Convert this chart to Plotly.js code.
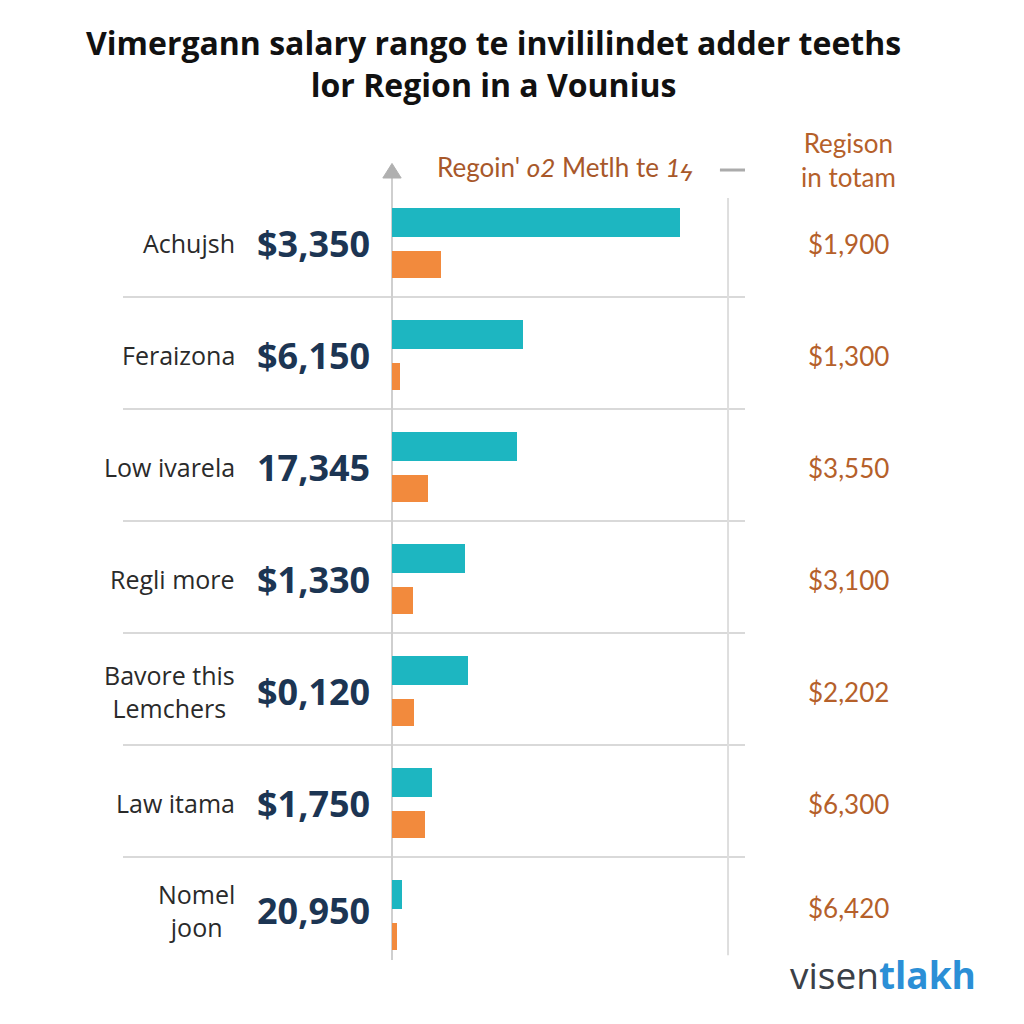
<!DOCTYPE html>
<html>
<head>
<meta charset="utf-8">
<script src="https://cdn.plot.ly/plotly-3.0.1.min.js"></script>
<style>html,body{margin:0;padding:0;background:#fff;}#chart{width:1024px;height:1024px;}</style>
</head>
<body>
<div id="chart"></div>
<script>
const categories = ["Achujsh", "Feraizona", "Low ivarela", "Regli more", "Bavore this<br>Lemchers", "Law itama", "Nomel<br>joon"];
const valueLabels = ["$3,350", "$6,150", "17,345", "$1,330", "$0,120", "$1,750", "20,950"];
const rightLabels = ["$1,900", "$1,300", "$3,550", "$3,100", "$2,202", "$6,300", "$6,420"];
const tealValues = [85.7, 39.0, 37.2, 21.7, 22.6, 11.9, 3.0];
const orangeValues = [14.6, 2.4, 10.7, 6.3, 6.5, 9.8, 1.5];
const titleText = "Vimergann salary rango te invililindet adder teeths<br>lor Region in a Vounius";
const legendText = "Regoin' <i>o2</i> Metlh te <i>1ϟ</i>";
const rightHeader = "Regison<br>in totam";

const idx = categories.map((c, i) => i);

const traces = [
  {type: 'bar', orientation: 'h', y: idx, x: tealValues, width: 0.26, offset: -0.375,
   marker: {color: '#1db6c1'}, hoverinfo: 'skip', showlegend: false},
  {type: 'bar', orientation: 'h', y: idx, x: orangeValues, width: 0.24, offset: 0.01,
   marker: {color: '#f28a3d'}, hoverinfo: 'skip', showlegend: false}
];

const annotations = [];
categories.forEach((c, i) => {
  const ys = i === 6 ? 12 : 7;
  annotations.push({xref: 'paper', yref: 'y', x: -0.439, y: i, yshift: ys, xanchor: 'right', yanchor: 'middle',
    text: c, showarrow: false, align: c.includes('<br>') ? 'center' : 'right',
    font: {family: 'Open Sans', size: 25, color: '#2a2a2a'}});
  annotations.push({xref: 'paper', yref: 'y', x: -0.057, y: i, yshift: ys, xanchor: 'right', yanchor: 'middle',
    text: '<b>' + valueLabels[i] + '</b>', showarrow: false,
    font: {family: 'Open Sans', size: 36, color: '#1c3553'}});
  annotations.push({xref: 'paper', yref: 'y', x: 1.292, y: i, yshift: (i === 6 ? 14 : 6), xanchor: 'center', yanchor: 'middle',
    text: rightLabels[i], showarrow: false,
    font: {family: 'Lato', size: 26, color: '#b5602a'}});
});
annotations.push({xref: 'paper', yref: 'paper', x: 1.292, y: 1.0434, xanchor: 'center', yanchor: 'middle',
  text: rightHeader, showarrow: false, font: {family: 'Lato', size: 26, color: '#b5602a'}});
annotations.push({xref: 'paper', yref: 'paper', x: 0.49, y: 1.0344, xanchor: 'center', yanchor: 'middle',
  text: legendText, showarrow: false, font: {family: 'Lato', size: 26, color: '#a8582a'}});
annotations.push({xref: 'paper', yref: 'paper', x: 1.66, y: 0.004, xanchor: 'right', yanchor: 'middle',
  text: "<span style='color:#3b4047'>visen</span><b><span style='color:#2b8fd6'>tlakh</span></b>", showarrow: false,
  font: {family: 'Open Sans', size: 37, color: '#3b4047'}});

const sepY = [0.8686, 0.7258, 0.5829, 0.4401, 0.2972, 0.1543];
const shapes = sepY.map(y => ({type: 'line', xref: 'paper', yref: 'paper', x0: -0.762, x1: 1.0, y0: y, y1: y,
  line: {color: '#d9d9d9', width: 2}, layer: 'below'}));
shapes.push({type: 'line', xref: 'paper', yref: 'paper', x0: 0, x1: 0, y0: 0.023, y1: 1.024,
  line: {color: '#cfcfcf', width: 2}, layer: 'below'});
shapes.push({type: 'line', xref: 'paper', yref: 'paper', x0: 0.952, x1: 0.952, y0: 0.029, y1: 0.995,
  line: {color: '#dedede', width: 2}, layer: 'below'});
shapes.push({type: 'path', xref: 'paper', yref: 'paper',
  path: 'M -0.026 1.0204 L 0 1.039 L 0.026 1.0204 Z', fillcolor: '#b0b0b0', line: {color: '#b0b0b0', width: 1}});
shapes.push({type: 'line', xref: 'paper', yref: 'paper', x0: 0.929, x1: 1.0, y0: 1.0306, y1: 1.0306,
  line: {color: '#ababab', width: 3}});

const layout = {
  width: 1024, height: 1024,
  paper_bgcolor: '#ffffff', plot_bgcolor: 'rgba(0,0,0,0)',
  margin: {l: 392, r: 279, t: 194, b: 46},
  title: {text: '<b>' + titleText + '</b>', x: 0.482, xanchor: 'center', y: 0.946, yanchor: 'middle',
    font: {family: 'Open Sans', size: 32, color: '#111'}},
  xaxis: {range: [0, 105], showticklabels: false, showgrid: false,
    zeroline: false, showline: false, fixedrange: true},
  yaxis: {type: 'linear', range: [6.5, -0.5], showticklabels: false, showgrid: false, zeroline: false, showline: false},
  bargap: 0, barmode: 'overlay',
  annotations: annotations, shapes: shapes, showlegend: false
};
Plotly.newPlot('chart', traces, layout, {displayModeBar: false, staticPlot: true});
</script>
</body>
</html>
